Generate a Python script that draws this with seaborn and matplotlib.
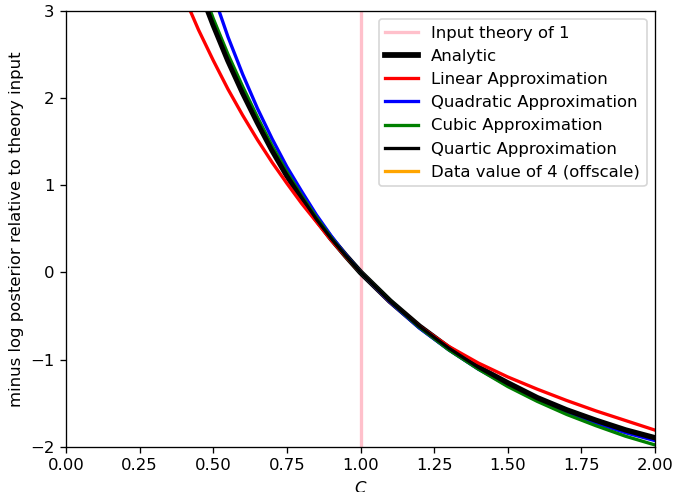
import numpy as np
import pandas as pd
import matplotlib
matplotlib.use("Agg")
import matplotlib.pyplot as plt
import seaborn as sns

# values
c_vals = [0.40, 0.45, 0.50, 0.55, 0.60, 0.65, 0.70, 0.75, 0.80, 0.85, 0.90, 0.95,
          1.00, 1.10, 1.20, 1.30, 1.40, 1.50, 1.60, 1.70, 1.80, 1.90, 2.00]
analytic = [3.78, 3.28, 2.84, 2.43, 2.06, 1.72, 1.40, 1.11, 0.85, 0.61, 0.39, 0.19,
            0.00, -0.33, -0.62, -0.87, -1.09, -1.27, -1.44, -1.58, -1.70, -1.81, -1.90]
linear = [3.17, 2.78, 2.43, 2.10, 1.80, 1.52, 1.26, 1.02, 0.79, 0.58, 0.37, 0.18,
          0.00, -0.34, -0.62, -0.85, -1.04, -1.20, -1.34, -1.47, -1.59, -1.70, -1.81]
quadratic = [4.37, 3.74, 3.19, 2.70, 2.27, 1.88, 1.53, 1.21, 0.93, 0.66, 0.42, 0.20,
             0.00, -0.34, -0.64, -0.89, -1.11, -1.30, -1.47, -1.61, -1.73, -1.84, -1.93]
cubic = [3.95, 3.37, 2.91, 2.50, 2.13, 1.78, 1.45, 1.15, 0.88, 0.63, 0.40, 0.19,
         0.00, -0.33, -0.63, -0.89, -1.11, -1.31, -1.48, -1.63, -1.76, -1.88, -1.98]
quartic = [3.80, 3.29, 2.85, 2.44, 2.07, 1.73, 1.41, 1.12, 0.86, 0.61, 0.39, 0.19,
           0.00, -0.33, -0.62, -0.87, -1.09, -1.28, -1.45, -1.59, -1.71, -1.82, -1.91]
theory_input = 1
data_value = 4

df = pd.DataFrame({"C": c_vals, "analytic": analytic, "linear": linear,
                   "quadratic": quadratic, "cubic": cubic, "quartic": quartic})

dpi = 118.5
fig = plt.figure(figsize=(673 / dpi, 492 / dpi), dpi=dpi)
ax = fig.add_axes([66 / 673, 1 - 446.7 / 492, (655 - 66) / 673, (446.7 - 10.7) / 492])

ax.axvline(theory_input, color="pink", lw=2, label="Input theory of 1")
sns.lineplot(data=df, x="C", y="analytic", color="black", lw=3.5, label="Analytic", ax=ax)
sns.lineplot(data=df, x="C", y="linear", color="red", lw=2, label="Linear Approximation", ax=ax)
sns.lineplot(data=df, x="C", y="quadratic", color="blue", lw=2, label="Quadratic Approximation", ax=ax)
sns.lineplot(data=df, x="C", y="cubic", color="green", lw=2, label="Cubic Approximation", ax=ax)
sns.lineplot(data=df, x="C", y="quartic", color="black", lw=2, label="Quartic Approximation", ax=ax)
ax.axvline(data_value, color="orange", lw=2, label="Data value of 4 (offscale)")

ax.set_xlim(0, 2)
ax.set_ylim(-2, 3)
ax.set_xlabel("$C$")
ax.set_ylabel("minus log posterior relative to theory input")
ax.legend(loc="upper right")

fig.savefig("out.png", dpi=dpi)
